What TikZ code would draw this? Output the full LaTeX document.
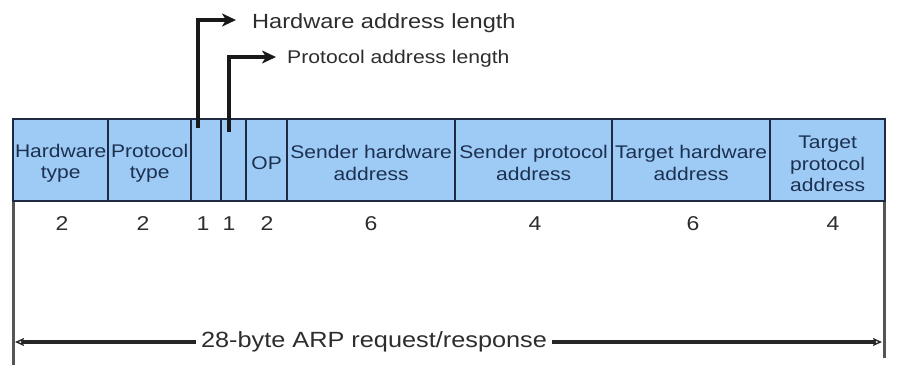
\documentclass[tikz,border=0pt]{standalone}
\usepackage{fontspec}
\setmainfont{Liberation Sans}[FakeStretch=1.15]
\usetikzlibrary{arrows.meta}

\definecolor{fieldfill}{RGB}{158,203,245}
\definecolor{fieldline}{RGB}{30,42,68}
\definecolor{fieldtext}{RGB}{28,48,80}
\definecolor{labeltext}{RGB}{45,45,45}
\definecolor{rulegray}{RGB}{85,85,85}

\tikzset{
  field/.style={draw=fieldline, line width=2.3pt, fill=fieldfill,
    anchor=north west, minimum height=82pt, inner sep=0pt,
    text=fieldtext, align=center,
    font=\fontsize{18.3}{21.5}\selectfont},
  fieldtxt/.style={anchor=center, inner sep=0pt, text=fieldtext,
    align=center, font=\fontsize{18.3}{21.5}\selectfont},
  bytes/.style={anchor=base, inner sep=0pt, text=labeltext,
    font=\fontsize{20}{24}\selectfont},
  toplabel/.style={anchor=base west, inner sep=0pt, text=labeltext},
  toparrow/.style={line width=3.2pt, draw=black!90,
    -{Stealth[length=14pt,width=13pt,inset=4pt]}},
  sizerule/.style={line width=3pt, draw=rulegray},
  spanarrow/.style={line width=3.4pt, draw=black!85,
    -{Stealth[open,length=9pt,width=8pt,inset=1.5pt,line width=1.4pt]}}
}

\begin{document}
\begin{tikzpicture}[x=1pt,y=-1pt]
\useasboundingbox (0,0) rectangle (897,365);

% side rules bounding the whole packet
\coordinate (ltop) at (13,118);
\coordinate (lbot) at (13,365);
\coordinate (rtop) at (884,118);
\coordinate (rbot) at (884,358);
\draw[sizerule] (ltop) -- (lbot);
\draw[sizerule] (rtop) -- (rbot);

% packet fields
\node[field, minimum width=95pt]  (hwtype) at (12,118)  {};
\node[field, minimum width=83pt]  (prtype) at (107,118) {};
\node[field, minimum width=30pt]  (hlen)   at (190,118) {};
\node[field, minimum width=25pt]  (plen)   at (220,118) {};
\node[field, minimum width=41pt]  (op)     at (245,118) {};
\node[field, minimum width=168pt] (sha)    at (286,118) {};
\node[field, minimum width=157pt] (spa)    at (454,118) {};
\node[field, minimum width=158pt] (tha)    at (611,118) {};
\node[field, minimum width=115pt] (tpa)    at (769,118) {};

% field names, set a little below each field's centre
\node[fieldtxt] at ([yshift=-3pt]hwtype.center) {Hardware\\type};
\node[fieldtxt] at ([yshift=-3pt]prtype.center) {Protocol\\type};
\node[fieldtxt] at ([yshift=-3pt]op.center)     {OP};
\node[fieldtxt] at ([yshift=-3pt]sha.center)    {Sender hardware\\address};
\node[fieldtxt] at ([yshift=-3pt]spa.center)    {Sender protocol\\address};
\node[fieldtxt] at ([yshift=-3pt]tha.center)    {Target hardware\\address};
\node[fieldtxt] at ([yshift=-4pt]tpa.center)    {Target\\protocol\\address};

% field sizes in bytes
\node[bytes] (nhwtype) at (62,230)  {2};
\node[bytes] (nprtype) at (143,230) {2};
\node[bytes] (nhlen)   at (203,230) {1};
\node[bytes] (nplen)   at (229,230) {1};
\node[bytes] (nop)     at (267,230) {2};
\node[bytes] (nsha)    at (371,230) {6};
\node[bytes] (nspa)    at (535,230) {4};
\node[bytes] (ntha)    at (693,230) {6};
\node[bytes] (ntpa)    at (833,230) {4};

% callouts for the two length fields
\node[toplabel, font=\fontsize{20.5}{24}\selectfont] (hwl) at (252,28) {Hardware address length};
\node[toplabel, font=\fontsize{18.4}{22}\selectfont] (prl) at (287,63) {Protocol address length};
\coordinate (hwtap) at (198,128);
\coordinate (hwend) at (236,20);
\coordinate (prtap) at (229,132);
\coordinate (prend) at (276,57);
\draw[toparrow] (hwtap) |- (hwend);
\draw[toparrow] (prtap) |- (prend);

% total length
\node[inner sep=5pt, text=labeltext, font=\fontsize{22}{26}\selectfont]
  (total) at (374,342) {28-byte ARP request/response};
\coordinate (lend) at (15,342);
\coordinate (rend) at (882,342);
\draw[spanarrow] (total.west) -- (lend);
\draw[spanarrow] (total.east) -- (rend);
\end{tikzpicture}
\end{document}
